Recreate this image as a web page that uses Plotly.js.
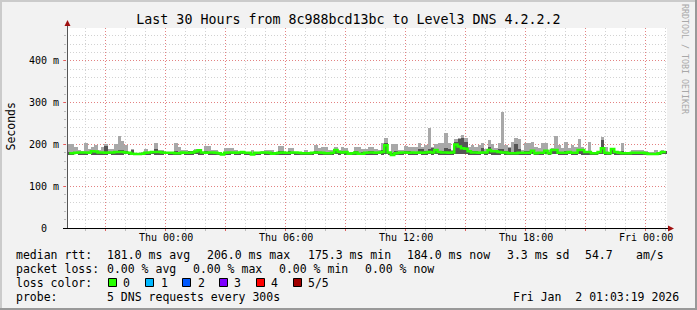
<!DOCTYPE html>
<html><head><meta charset="utf-8">
<script src="https://cdn.plot.ly/plotly-3.0.1.min.js"></script>
<style>html,body{margin:0;padding:0;background:#f2f2f2;overflow:hidden}#chart{width:697px;height:310px}</style>
</head><body><div id="chart"></div>
<script>
// ---- data (ms), one sample every 10 minutes starting Wed 31 Dec 2025 19:05 ----
const startTime = Date.UTC(2025, 11, 31, 19, 5, 0);
const stepMs = 600000;
const rttMin = [
176,176,177,176,176,176,177,176,176,176,
176,176,177,176,176,176,176,177,176,175,
175,175,175,176,176,177,176,176,176,177,
176,176,176,176,177,176,176,176,177,176,
176,177,176,176,176,175,174,176,176,177,
176,176,177,176,176,174,176,176,177,176,
176,175,176,176,176,176,176,177,176,176,
176,176,176,176,177,176,176,176,176,176,
177,176,177,176,175,176,176,175,176,176,
176,176,176,177,176,177,176,174,176,176,
176,177,176,176,176,177,176,176,177,176,
177,176,176,176,176,176,177,178,178,177,
176,176,176,176,177,176,177,176,176,176,
177,176,176,176,176,176,176,176,176,177,
176,176,176,177,176,177,177,176,176,176,
177,176,176,177,176,176,176,176,176,177,
178,176,176,177,176,176,176,176,176,176,
176,176,176,176,175,175,175,176,177,177];
const rttDark = [
182,182,183,183,183,183,182,186,185,183,
183,196,183,183,184,186,186,184,182,188,
179,179,179,181,183,184,190,184,184,182,
181,181,185,182,183,182,184,184,185,188,
183,185,182,183,182,181,178,182,183,183,
182,183,184,181,180,178,181,180,183,183,
182,181,181,184,185,181,184,183,183,181,
180,182,181,182,185,183,183,182,182,182,
189,184,184,184,180,181,184,180,181,182,
184,184,182,183,188,203,183,180,184,182,
183,184,184,183,183,190,190,185,190,192,
190,185,184,192,190,184,205,212,215,205,
188,184,184,183,192,183,195,187,186,190,
190,184,192,183,200,190,182,184,184,188,
182,182,183,187,182,189,190,182,183,184,
184,183,183,190,189,184,184,181,181,184,
211,183,181,189,184,182,184,181,181,182,
182,182,182,181,179,179,179,181,184,184];
const rttMax = [
200,200,195,187,184,203,189,195,199,187,
195,201,189,189,200,221,209,199,182,190,
180,180,181,190,183,183,204,187,187,183,
182,181,204,195,186,186,183,183,190,190,
181,197,197,187,187,181,180,191,191,191,
187,183,183,181,180,187,181,180,184,187,
187,187,183,196,196,181,191,191,183,181,
180,187,183,183,199,191,195,193,187,187,
193,187,193,191,183,183,193,193,189,189,
195,195,189,187,203,215,183,200,200,187,
187,197,195,195,195,204,195,199,240,195,
200,203,203,227,203,187,212,216,223,215,
193,199,195,199,204,190,211,200,191,203,
277,199,195,207,215,212,187,204,203,207,
195,191,204,204,187,192,220,199,191,207,
191,199,195,212,195,183,207,183,183,183,
219,195,183,191,185,185,204,183,183,187,
187,187,187,185,183,183,187,183,187,185];
const rttMedian = [
179,179,180,181,181,181,180,184,183,181,
181,180,181,181,182,182,182,181,180,178,
177,177,178,180,181,182,182,182,181,180,
180,180,179,179,181,180,180,181,183,186,
181,180,181,181,180,179,176,180,181,181,
180,181,182,180,180,176,180,180,181,181,
180,178,179,180,181,180,180,181,181,180,
179,179,179,180,181,181,180,179,179,180,
187,182,181,182,178,179,181,178,178,180,
181,181,180,181,182,198,181,175,179,180,
181,181,180,181,180,181,180,181,182,181,
187,182,181,181,180,181,200,195,191,190,
184,181,181,180,181,181,187,184,184,182,
181,181,179,179,179,180,180,180,180,185,
179,180,180,185,179,187,187,180,180,180,
182,180,180,187,187,182,182,179,179,182,
191,180,179,189,182,180,179,179,179,180,
180,180,180,179,177,177,177,179,182,182];
const xTickValues = ['2025-12-31 21:00','2026-01-01 00:00','2026-01-01 03:00','2026-01-01 06:00','2026-01-01 09:00',
  '2026-01-01 12:00','2026-01-01 15:00','2026-01-01 18:00','2026-01-01 21:00','2026-01-02 00:00'];
const xTickLabels = ['','Thu 00:00','','Thu 06:00','','Thu 12:00','','Thu 18:00','','Fri 00:00'];
const yTickValues = [0,100,200,300,400];
const yTickLabels = ['0\u00a0\u00a0','100 m','200 m','300 m','400 m'];
const lossColors = ['#26ff00','#00b8ff','#0059ff','#7e00ff','#ff0000','#a10000'];
const lossLabels = ['0','1','2','3','4','5/5'];
const statsRtt = ['181.0 ms avg','206.0 ms max','175.3 ms min','184.0 ms now','3.3 ms sd','54.7','am/s'];
const statsLoss = ['0.00 % avg','0.00 % max','0.00 % min','0.00 % now'];

// ---- build ----
const fmt = t => new Date(t).toISOString().replace('T',' ').slice(0,19);
const times = rttMedian.map((_, i) => fmt(startTime + (i + 0.5) * stepMs));
const MONO = 'DejaVu Sans Mono';
const L = 67, T = 28, W = 600, H = 200;
const px = x => (x - L) / W;
const py = y => (T + H - y) / H;

const traces = [
  {type:'bar', x:times, base:rttMin, y:rttMax.map((v,i)=>v-rttMin[i]), width:stepMs,
   marker:{color:'#a8a8a8', line:{width:0}}, hoverinfo:'skip'},
  {type:'bar', x:times, base:rttMin, y:rttDark.map((v,i)=>v-rttMin[i]), width:stepMs,
   marker:{color:'#555555', line:{width:0}}, hoverinfo:'skip'},
  {type:'scatter', mode:'lines', x:times, y:rttMedian,
   line:{color:'#26ff00', width:2.5, shape:'hvh'}, hoverinfo:'skip'}
];

function ann(text, x, y, extra) {
  return Object.assign({text:text, x:px(x), y:py(y), xref:'paper', yref:'paper',
    xanchor:'left', yanchor:'middle', showarrow:false, borderpad:0, borderwidth:0,
    font:{family:MONO, size:11.5, color:'#000'}}, extra || {});
}
const annotations = [];
annotations.push(ann('median rtt:', 16, 254.5));
[107.3,207.3,308,407.3,506.7,585.3,636].forEach((x,i)=>annotations.push(ann(statsRtt[i], x, 254.5)));
annotations.push(ann('packet loss:', 16, 268.5));
[107.3,193.3,279.3,365.3].forEach((x,i)=>annotations.push(ann(statsLoss[i], x, 268.5)));
annotations.push(ann('loss color:', 16, 282.5));
const boxX = [108.5,145.5,182.5,219.5,256.5,293.5];
const labX = [123.3,160.7,197.7,234.3,271,308];
lossLabels.forEach((t,i)=>annotations.push(ann(t, labX[i], 282.5)));
annotations.push(ann('probe:', 16, 296.5));
annotations.push(ann('5 DNS requests every 300s', 107.3, 296.5));
annotations.push(ann('Fri Jan\u00a0\u00a02 01:03:19 2026', 513.3, 296.5));
annotations.push(ann('Seconds', 10.5, 127, {xanchor:'center', textangle:-90}));
annotations.push(ann('RRDTOOL / TOBI OETIKER', 685, 59,
  {xanchor:'center', textangle:90, font:{family:MONO, size:8.3, color:'#a8a8a8'}}));
// x-axis tick labels placed as text so their vertical position matches exactly
xTickValues.forEach((v,i)=>{ if (xTickLabels[i]) annotations.push({text:xTickLabels[i], x:v, xref:'x',
  y:py(237.5), yref:'paper', xanchor:'center', yanchor:'middle', showarrow:false, borderpad:0, borderwidth:0,
  font:{family:MONO, size:10, color:'#000'}}); });

const shapes = [];
lossColors.forEach((c,i)=>shapes.push({type:'rect', xref:'paper', yref:'paper',
  x0:px(boxX[i]), x1:px(boxX[i]+8), y0:py(278.5), y1:py(286.5),
  fillcolor:c, line:{color:'#000', width:1}, layer:'above'}));
shapes.push({type:'line', xref:'paper', yref:'paper', x0:px(67.5), x1:px(67.5), y0:py(228), y1:py(24),
  line:{color:'#555', width:1}});
shapes.push({type:'line', xref:'paper', yref:'paper', x0:px(63), x1:px(669), y0:py(228.5), y1:py(228.5),
  line:{color:'#000', width:1}});
shapes.push({type:'path', xref:'paper', yref:'paper',
  path:`M ${px(64.5)} ${py(26)} L ${px(70.5)} ${py(26)} L ${px(67.5)} ${py(20)} Z`,
  fillcolor:'#a01010', line:{width:0}});
shapes.push({type:'path', xref:'paper', yref:'paper',
  path:`M ${px(668)} ${py(225.5)} L ${px(668)} ${py(231.5)} L ${px(674)} ${py(228.5)} Z`,
  fillcolor:'#a01010', line:{width:0}});
shapes.push({type:'rect', xref:'paper', yref:'paper', x0:px(0), x1:px(697), y0:py(0), y1:py(2), fillcolor:'#cbcbcb', line:{width:0}});
shapes.push({type:'rect', xref:'paper', yref:'paper', x0:px(0), x1:px(2), y0:py(0), y1:py(310), fillcolor:'#cbcbcb', line:{width:0}});
shapes.push({type:'rect', xref:'paper', yref:'paper', x0:px(695), x1:px(697), y0:py(0), y1:py(310), fillcolor:'#999999', line:{width:0}});
shapes.push({type:'rect', xref:'paper', yref:'paper', x0:px(0), x1:px(697), y0:py(308), y1:py(310), fillcolor:'#999999', line:{width:0}});

const layout = {
  width:697, height:310,
  margin:{l:L, r:697-L-W, t:T, b:310-T-H, pad:0},
  paper_bgcolor:'#f2f2f2', plot_bgcolor:'#ffffff',
  showlegend:false, barmode:'overlay', bargap:0,
  title:{text:'Last 30 Hours from 8c988bcd13bc to Level3 DNS 4.2.2.2',
    font:{family:MONO, size:13.3, color:'#000'},
    x:0.5, xref:'container', xanchor:'center', y:1-19/310, yref:'container', yanchor:'middle'},
  xaxis:{type:'date', range:['2025-12-31 19:03:19','2026-01-02 01:03:19'],
    tickmode:'array', tickvals:xTickValues, ticktext:xTickValues.map(()=>''),
    showgrid:true, gridcolor:'rgba(255,0,0,0.38)', griddash:'1px,2px', gridwidth:1,
    ticks:'outside', ticklen:2, tickcolor:'rgba(255,0,0,0.5)',
    tickfont:{family:MONO, size:10, color:'#000'},
    zeroline:false, showline:false, fixedrange:true,
    minor:{dtick:3600000, tick0:'2025-12-31 20:00', showgrid:true, gridcolor:'#d2d2d2',
      griddash:'1px,2px', gridwidth:1, ticks:'outside', ticklen:2, tickcolor:'#bbbbbb'}},
  yaxis:{range:[0,479], tickmode:'array', tickvals:yTickValues, ticktext:yTickLabels,
    showgrid:true, gridcolor:'rgba(255,0,0,0.38)', griddash:'1px,2px', gridwidth:1,
    ticks:'outside', ticklen:3, tickcolor:'rgba(255,0,0,0.5)',
    tickfont:{family:MONO, size:10, color:'#000'}, ticklabelstandoff:2,
    zeroline:false, showline:false, fixedrange:true,
    minor:{dtick:20, tick0:0, showgrid:true, gridcolor:'#d2d2d2', griddash:'1px,2px', gridwidth:1,
      ticks:'outside', ticklen:2, tickcolor:'#bbbbbb'}},
  annotations:annotations, shapes:shapes
};
Plotly.newPlot('chart', traces, layout, {staticPlot:true, displayModeBar:false});
</script></body></html>
